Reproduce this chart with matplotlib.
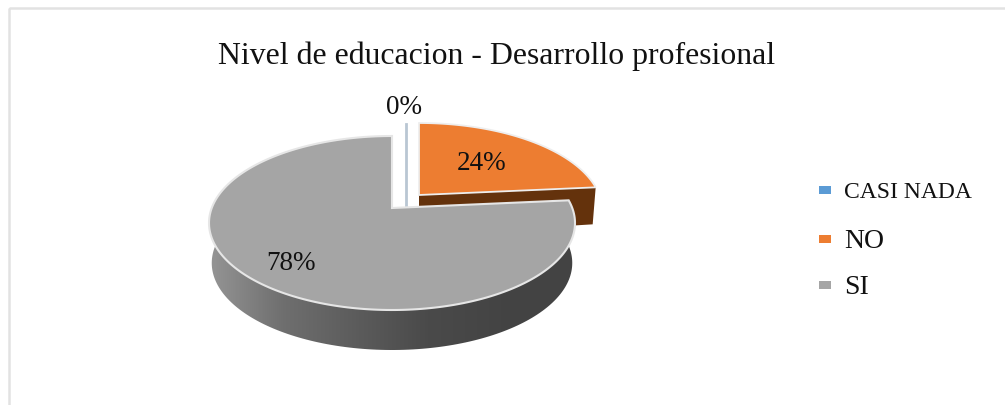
import numpy as np
import matplotlib
matplotlib.use("Agg")
import matplotlib.pyplot as plt
from matplotlib.colors import LinearSegmentedColormap
from matplotlib.patches import Polygon, Rectangle

title = "Nivel de educacion - Desarrollo profesional"
categories = ["CASI NADA", "NO", "SI"]
values = [0, 24, 78]
colors = ["#5b9bd5", "#ed7d31", "#a5a5a5"]

# Pie geometry, in pixels
cx, cy = 392, 223
rx, ry = 183, 87
tilt = 15 / 87   # perspective: how far the real centre sits above the ellipse centre
depth = 40
offsets = [(14, -11), (27, -13), (0, 0)]


def rim(angles, dx=0, dy=0, scale=1.0):
    # angles in degrees on the flat disc, projected with perspective
    t = np.radians(angles)
    u, v = np.cos(t), np.sin(t)
    w = 1 + tilt * v
    x = u * np.sqrt(1 - tilt ** 2) / w
    y = (v + tilt) / w
    return np.column_stack([cx + dx + rx * scale * x, cy + dy - ry * y])


def centre(dx=0, dy=0):
    return np.array([[cx + dx, cy + dy - ry * tilt]])


fig = plt.figure(figsize=(10.05, 4.05), dpi=100)
ax = fig.add_axes([0, 0, 1, 1])
serif = "Liberation Serif"

# slice angles, clockwise from the top
sweep = np.array(values) / sum(values) * 360
stops = 90 - np.cumsum(np.concatenate([[0], sweep]))

# zero slice, only a thin line
dx, dy = offsets[0]
top = rim([90.0], dx, dy)[0]
ax.plot([top[0], top[0]], [top[1] - 1, top[1] + ry + depth], color="#b9c6d3", lw=2, zorder=1)

# NO: dark cut face then top
dx, dy = offsets[1]
a0, a1 = stops[1], stops[2]
tip = rim([a1], dx, dy)[0]
mid = centre(dx, dy)[0]
cut = [mid, tip, tip + [-3, depth - 3], mid + [0, depth]]
ax.add_patch(Polygon(cut, closed=True, fc="#64320c", ec="none", zorder=2))
pts = np.vstack([centre(dx, dy), rim(np.linspace(a0, a1, 80), dx, dy)])
ax.add_patch(Polygon(pts, closed=True, fc=colors[1], ec="#eeeeee", lw=1.3, zorder=3))

# SI: shaded wall then top
a0, a1 = stops[2], stops[3]
upper = rim(np.linspace(170, a0 + 360, 160))
lower = rim(np.linspace(170, a0 + 360, 160), dy=depth, scale=0.985)
wall = Polygon(np.vstack([upper, lower[::-1]]), closed=True, fc="none", ec="none",
               transform=ax.transData, zorder=4)
ax.add_patch(wall)
shade = LinearSegmentedColormap.from_list(
    "shade", ["#959595", "#6f6f6f", "#5c5c5c", "#4a4a4a", "#444444", "#434343"])
im = ax.imshow(np.linspace(0, 1, 256).reshape(1, -1), cmap=shade, aspect="auto",
               extent=[cx - rx, cx + rx, cy + ry + depth, cy - ry], zorder=4)
im.set_clip_path(wall)
pts = np.vstack([centre(), rim(np.linspace(a0, a1, 240))])
ax.add_patch(Polygon(pts, closed=True, fc=colors[2], ec="#e6e6e6", lw=1.5, zorder=5))

# data labels
label_pos = [(404, 108), (482, 164), (291, 264)]
for v, (lx, ly) in zip(values, label_pos):
    ax.text(lx, ly, "%d%%" % v, family=serif, fontsize=19.5, ha="center", va="center",
            color="#111111", zorder=6)

ax.text(497, 56, title, family=serif, fontsize=22.9, ha="center", va="center", color="#111111")

# legend
legend_y = [190, 239, 285]
legend_size = [17, 20, 20]
for name, c, ly, fs in zip(categories, colors, legend_y, legend_size):
    ax.add_patch(Rectangle((819, ly - 4), 12, 8, fc=c, ec="none"))
    ax.text(844, ly + 3, name, family=serif, fontsize=fs, ha="left", va="center", color="#111111")

# frame of the picture
ax.add_patch(Rectangle((9, 8), 1010, 410, fc="none", ec="#e2e2e2", lw=1.8))

ax.set_xlim(0, 1005)
ax.set_ylim(405, 0)
ax.axis("off")
fig.savefig("out.png", dpi=100)
